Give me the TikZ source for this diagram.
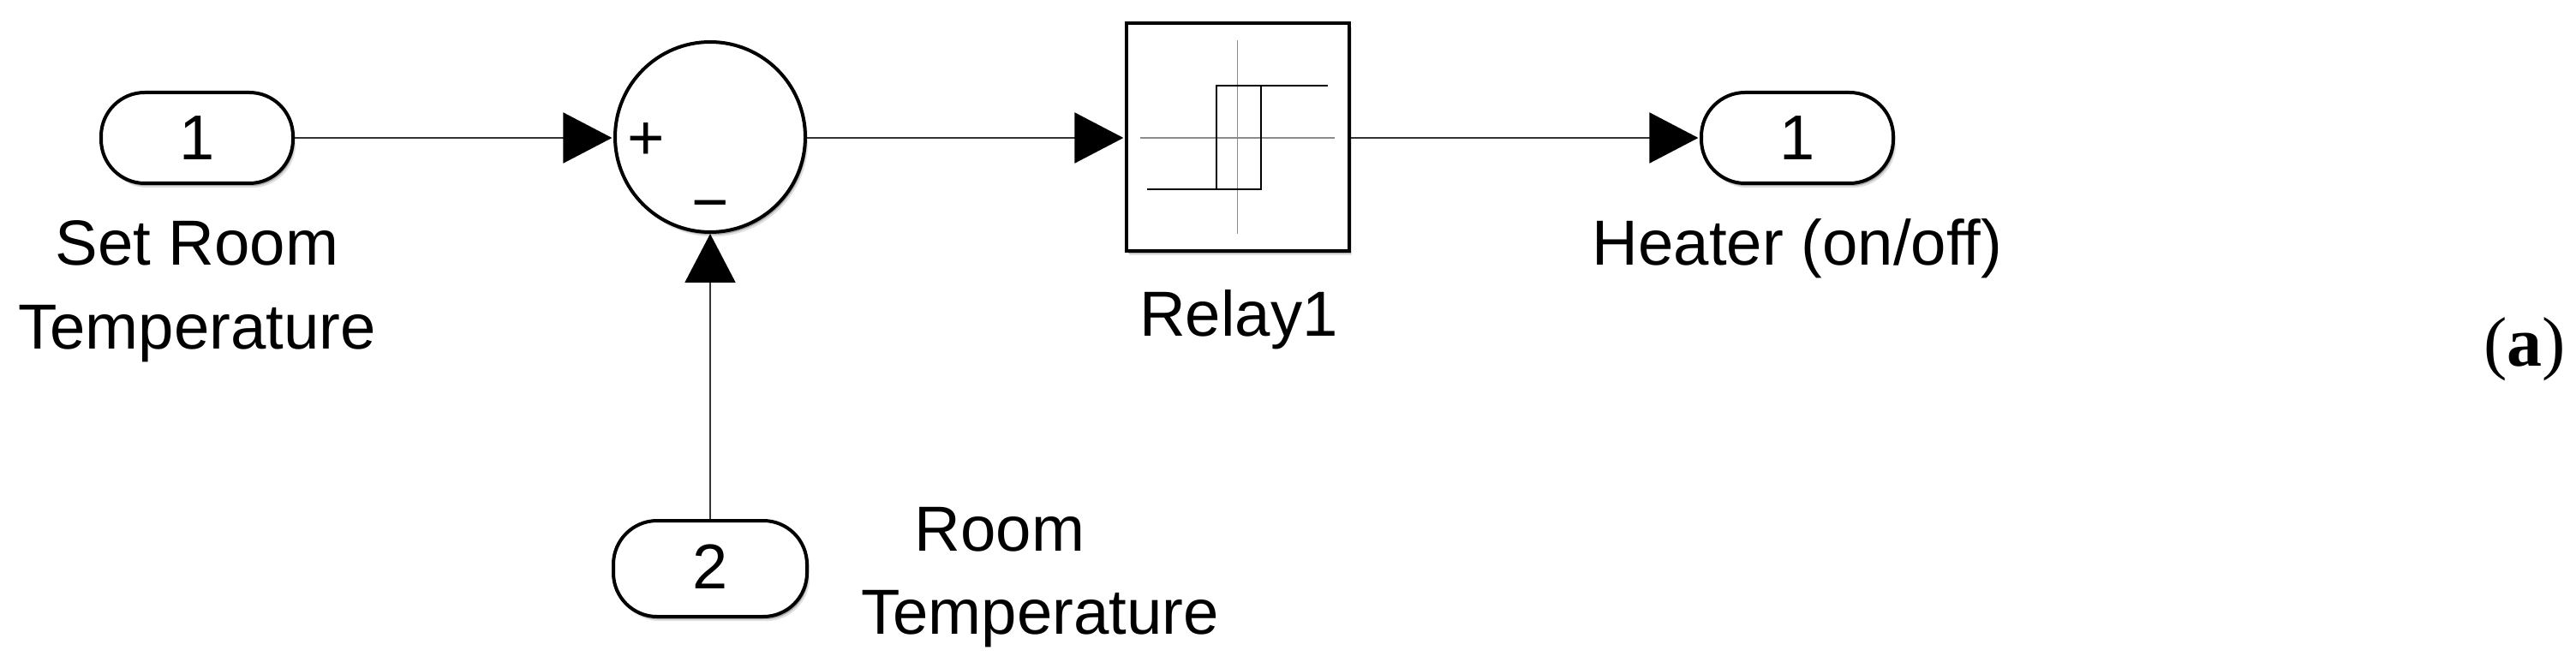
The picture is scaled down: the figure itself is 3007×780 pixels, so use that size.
\documentclass[tikz,border=0pt]{standalone}
\usepackage{fontspec}
\setmainfont{Liberation Sans}
\newfontfamily\capfont{Liberation Serif}
\usetikzlibrary{arrows.meta,shadows}
\tikzset{
  softshadow/.style={
    general shadow={shadow xshift=1.6pt,shadow yshift=-2.6pt,fill=black,opacity=.12},
    general shadow={shadow xshift=.9pt,shadow yshift=-1.6pt,fill=black,opacity=.25}},
  port/.style={draw=black,fill=white,line width=2pt,rectangle,rounded corners=25.5pt,softshadow,inner sep=0pt,font=\fontsize{37}{37}\selectfont,text height=26pt,text depth=0pt},
  sumblock/.style={draw=black,fill=white,line width=2pt,circle,minimum size=111pt,inner sep=0pt,softshadow},
  relayblock/.style={draw=black,fill=white,line width=2pt,rectangle,minimum width=130pt,minimum height=133pt,inner sep=0pt,softshadow},
  label/.style={anchor=base,inner sep=0pt,font=\fontsize{37.2}{37.2}\selectfont},
  wire/.style={draw=black!80,line width=1pt,-{Triangle[black,length=28.5pt,width=29.5pt]},shorten >=.8pt},
  axisline/.style={draw=black!45,line width=.7pt},
  curveline/.style={draw=black,line width=.8pt},
}
\begin{document}
\begin{tikzpicture}[x=.5pt,y=-.5pt]
\useasboundingbox (0,0) rectangle (3007,780);
\node[port,minimum width=112pt,minimum height=53pt] (p1) at (230,161) {1};
\node[sumblock] (sum) at (829,160) {};
\node[relayblock] (relay) at (1445,160) {};
\node[port,minimum width=112pt,minimum height=53pt] (out) at (2098,161) {1};
\node[port,minimum width=113pt,minimum height=56pt,text depth=3pt] (p2) at (829,664) {2};
% connectors
\draw[wire] (p1) -- (sum.west |- p1);
\draw[wire] (sum.east |- p1) -- (relay.west |- p1);
\draw[wire] (relay.east |- out) -- (out);
\draw[wire,shorten >=0pt] (p2) -- (sum);
% sum signs
\node[label] (plus) at (754,187) {+};
\node[label] (minus) at (829,262) {−};
% relay icon
\draw[axisline] (1331,161) -- (1558,161);
\draw[axisline] (1444.5,47) -- (1444.5,273);
\draw[curveline] (1339,221) -- (1472,221) -- (1472,100) -- (1420,100) -- (1420,221);
\draw[curveline] (1472,100) -- (1550,100);
% labels
\node[label] (l1a) at (230,310) {Set Room};
\node[label] (l1b) at (230,408) {Temperature};
\node[label] (l2) at (1446,393) {Relay1};
\node[label] (l3) at (2098,310) {Heater (on/off)};
\node[label] (l4a) at (1167,643) {Room};
\node[label] (l4b) at (1214,740) {Temperature};
\node[anchor=base,inner sep=0pt,font=\capfont\fontsize{41}{41}\selectfont] (cap) at (2947,428) {(\textbf{a})};
\end{tikzpicture}
\end{document}
